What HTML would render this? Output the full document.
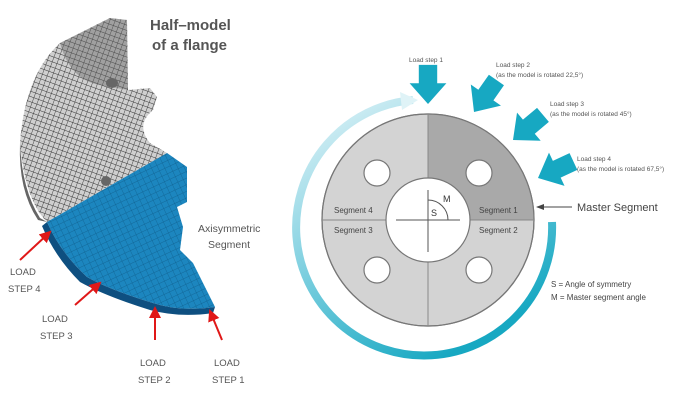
<!DOCTYPE html>
<html><head><meta charset="utf-8"><style>
html,body{margin:0;padding:0;background:#fff;}
svg{display:block;font-family:"Liberation Sans",sans-serif;}
</style></head><body>
<svg width="690" height="418" viewBox="0 0 690 418">
<defs>
<pattern id="g1" width="5" height="5" patternUnits="userSpaceOnUse" patternTransform="rotate(20)">
<rect width="5" height="5" fill="#cfcfcf"/><path d="M0 0H5M0 0V5" stroke="#333" stroke-width="0.9"/></pattern>
<pattern id="g2" width="6" height="6" patternUnits="userSpaceOnUse" patternTransform="rotate(-25)">
<rect width="6" height="6" fill="#1c86bf"/><path d="M0 0H6M0 0V6" stroke="#0f5f8e" stroke-width="0.7"/></pattern>
<linearGradient id="ring" x1="0" y1="0" x2="0.6" y2="1">
<stop offset="0" stop-color="#e6f5f9"/><stop offset="0.5" stop-color="#7fd0e0"/><stop offset="1" stop-color="#17a8c2"/></linearGradient>
<marker id="ra" markerWidth="6" markerHeight="6" refX="5" refY="3" orient="auto"><path d="M0 0L6 3L0 6z" fill="#e01818"/></marker>
<marker id="ka" markerWidth="8" markerHeight="8" refX="7" refY="4" orient="auto"><path d="M0 1L8 4L0 7z" fill="#444"/></marker>
<path id="blk" d="M-8 -34 H8 V-18 H16 L0 0 L-16 -18 H-8Z"/>
</defs>
<!-- left flange -->
<path d="M110 18 L127 20 L128 90 L150 88 L157 97 L153 110 Q135 125 150 143 L167 153 L47 222 Q25 200 20 143 Q25 75 60 43 Z" fill="url(#g1)"/>
<path d="M110 18 L127 20 L128 90 L100 85 Q70 80 60 43Z" fill="#666" opacity="0.45"/>
<path d="M20 143 Q22 190 40 218 L47 222 L38 220 Q18 190 20 143Z" fill="#666"/>
<path d="M47 222 L167 153 L187 167 L187 202 L177 207 L183 227 L180 250 L193 263 L215 307 Q180 312 153 303 Q110 290 87 277 Q60 252 47 222Z" fill="url(#g2)"/>
<path d="M47 222 Q60 252 87 277 Q110 290 153 303 Q180 312 215 307 L213 313 Q180 318 150 310 Q105 296 80 282 Q55 257 42 226Z" fill="#0e4f80"/>
<ellipse cx="112" cy="83" rx="6" ry="5" fill="#666"/><ellipse cx="106" cy="181" rx="5" ry="5" fill="#666"/>
<text x="150" y="30" font-size="15" font-weight="bold" fill="#555">Half–model</text>
<text x="152" y="50" font-size="15" font-weight="bold" fill="#555">of a flange</text>
<text x="198" y="232" font-size="10.5" fill="#555">Axisymmetric</text>
<text x="208" y="248" font-size="10.5" fill="#555">Segment</text>
<g stroke="#e01818" stroke-width="2" marker-end="url(#ra)">
<line x1="20" y1="260" x2="50" y2="232"/><line x1="75" y1="305" x2="100" y2="283"/>
<line x1="155" y1="340" x2="155" y2="308"/><line x1="222" y1="340" x2="210" y2="311"/></g>
<g font-size="9.5" fill="#555">
<text x="10" y="275">LOAD</text><text x="8" y="292">STEP 4</text>
<text x="42" y="322">LOAD</text><text x="40" y="339">STEP 3</text>
<text x="140" y="366">LOAD</text><text x="138" y="383">STEP 2</text>
<text x="214" y="366">LOAD</text><text x="212" y="383">STEP 1</text></g>
<!-- right diagram -->
<path d="M413 100 A128 128 0 1 0 552 222" fill="none" stroke="url(#ring)" stroke-width="8"/>
<path d="M400 92 L418 100 L402 110Z" fill="#dff3f7"/>
<circle cx="428" cy="220" r="106" fill="#d3d3d3" stroke="#777" stroke-width="1.2"/>
<path d="M428 220 L428 114 A106 106 0 0 1 534 220Z" fill="#a9a9a9"/>
<circle cx="428" cy="220" r="106" fill="none" stroke="#777" stroke-width="1.2"/>
<line x1="428" y1="114" x2="428" y2="326" stroke="#888"/><line x1="322" y1="220" x2="534" y2="220" stroke="#888"/>
<circle cx="428" cy="220" r="42" fill="#fff" stroke="#777" stroke-width="1.2"/>
<line x1="428" y1="190" x2="428" y2="252" stroke="#555"/><line x1="396" y1="220" x2="460" y2="220" stroke="#555"/>
<path d="M428 200 A20 20 0 0 1 448 220" fill="none" stroke="#555"/>
<text x="431" y="216" font-size="9" fill="#333">S</text><text x="443" y="202" font-size="9" fill="#333">M</text>
<g fill="#fff" stroke="#777" stroke-width="1.2">
<circle cx="377" cy="173" r="13"/><circle cx="479" cy="173" r="13"/><circle cx="377" cy="270" r="13"/><circle cx="479" cy="270" r="13"/></g>
<g font-size="8" fill="#444">
<text x="334" y="213">Segment 4</text><text x="334" y="233">Segment 3</text>
<text x="479" y="213">Segment 1</text><text x="479" y="233">Segment 2</text></g>
<line x1="572" y1="207" x2="537" y2="207" stroke="#444" marker-end="url(#ka)"/>
<text x="577" y="211" font-size="11" fill="#444">Master Segment</text>
<text x="551" y="287" font-size="8" fill="#444">S  = Angle of symmetry</text>
<text x="551" y="300" font-size="8" fill="#444">M = Master segment angle</text>
<g fill="#17a8c2">
<use href="#blk" transform="translate(428 104) scale(1.15)"/>
<use href="#blk" transform="translate(474 112) rotate(35) scale(1.15)"/>
<use href="#blk" transform="translate(513 140) rotate(50) scale(1.15)"/>
<use href="#blk" transform="translate(538 178) rotate(65) scale(1.15)"/></g>
<g font-size="6.5" fill="#555">
<text x="409" y="62">Load step 1</text>
<text x="496" y="67">Load step 2</text><text x="496" y="77">(as the model is rotated 22,5°)</text>
<text x="550" y="106">Load step 3</text><text x="550" y="116">(as the model is rotated 45°)</text>
<text x="577" y="161">Load step 4</text><text x="577" y="171">(as the model is rotated 67,5°)</text></g>
</svg>
</body></html>
